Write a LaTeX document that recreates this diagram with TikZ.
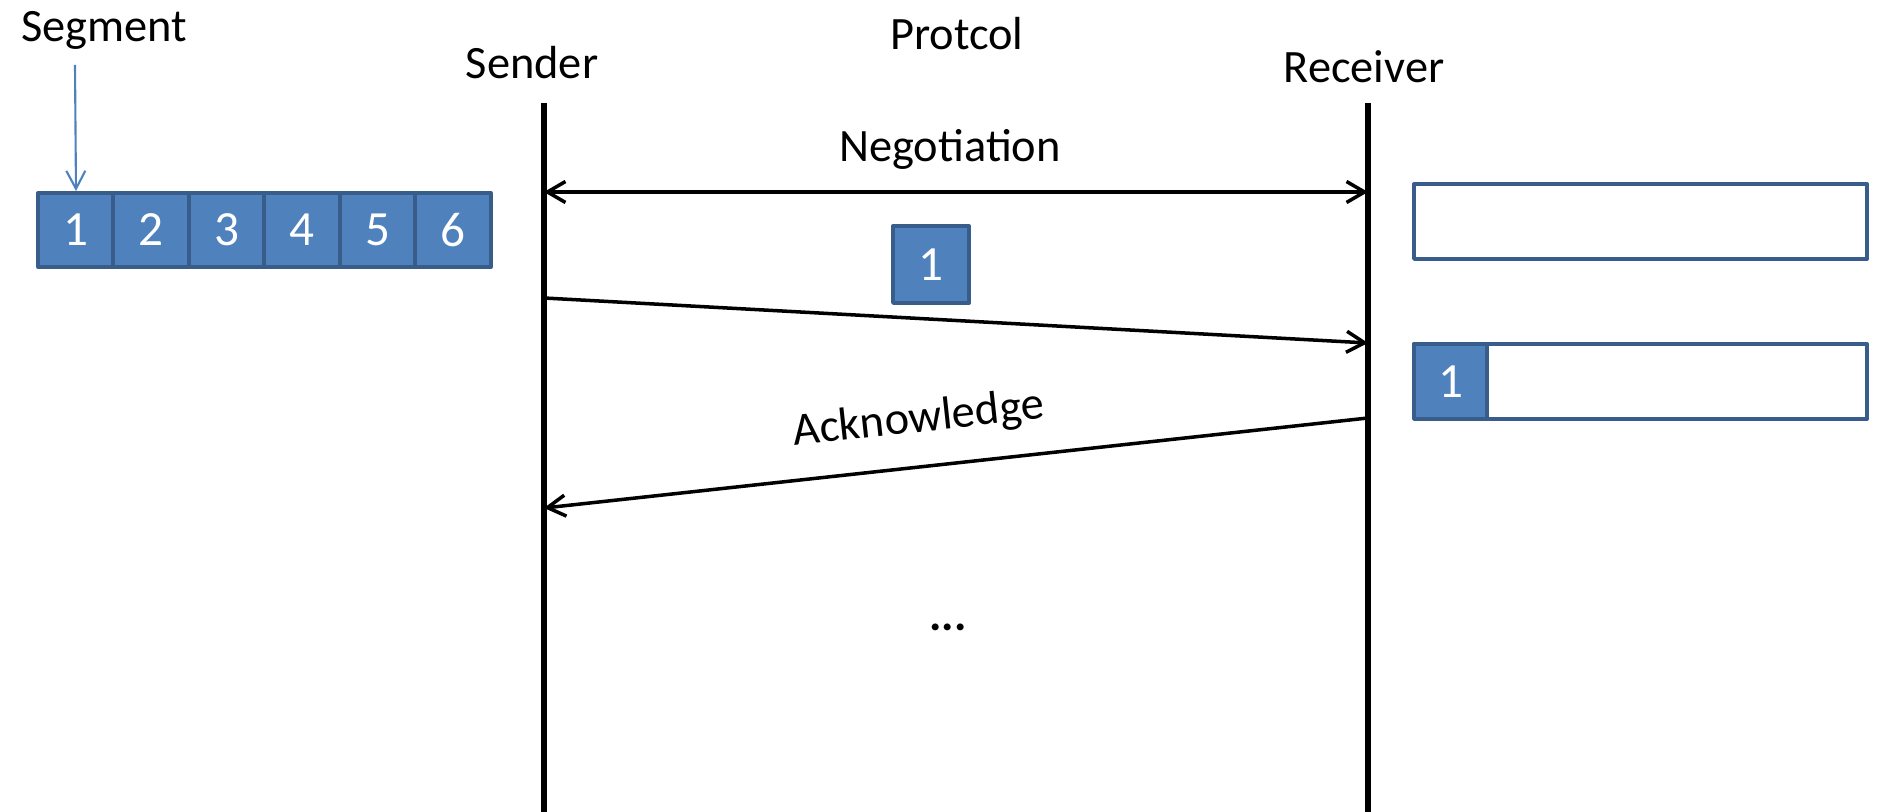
\documentclass[tikz,border=0pt]{standalone}
\usepackage{fontspec}
\setmainfont{Carlito}
\usepackage{tikz}
\usetikzlibrary{arrows.meta}
\pgfdeclarelayer{edgelayer}
\pgfdeclarelayer{nodelayer}
\pgfsetlayers{edgelayer,nodelayer,main}
\definecolor{segfill}{HTML}{4F81BD}
\definecolor{segline}{HTML}{385D8A}
\tikzstyle{none}=[inner sep=0pt]
\tikzstyle{caption}=[inner sep=0pt, anchor=base, font=\fontsize{13.2}{16}\selectfont]
\tikzstyle{cell}=[draw=segline, fill=segfill, line width=1.1pt, line join=round, inner sep=0pt, minimum width=0.755cm, minimum height=0.74cm, text=white, font=\fontsize{14}{16}\selectfont]
\tikzstyle{buffer}=[draw=segline, fill=white, line width=1.1pt, line join=round, inner sep=0pt, minimum width=4.53cm, minimum height=0.75cm]
\tikzstyle{lifeline}=[line width=1.7pt]
\tikzstyle{message}=[line width=1pt, >={Straight Barb[length=1.8mm,width=2.1mm]}]
\tikzstyle{pointer}=[draw=segfill, line width=0.6pt, ->, >={Straight Barb[length=1.8mm,width=1.9mm]}]

\begin{document}
\begin{tikzpicture}
	\useasboundingbox (0, 0) rectangle (18.78, -8.12);
	\begin{pgfonlayer}{nodelayer}
		\node [style=caption] (0) at (1.04, -0.42) {Segment};
		\node [style=caption] (1) at (5.32, -0.79) {Sender};
		\node [style=caption] (2) at (9.57, -0.50) {Protcol};
		\node [style=caption] (3) at (13.64, -0.83) {Receiver};
		\node [style=cell] (4) at (0.76, -2.30) {1};
		\node [style=cell] (5) at (1.51, -2.30) {2};
		\node [style=cell] (6) at (2.27, -2.30) {3};
		\node [style=cell] (7) at (3.02, -2.30) {4};
		\node [style=cell] (8) at (3.78, -2.30) {5};
		\node [style=cell] (9) at (4.53, -2.30) {6};
		\node [style=cell, minimum width=0.76cm, minimum height=0.77cm] (10) at (9.31, -2.645) {1};
		\node [style=buffer] (11) at (16.405, -2.215) {};
		\node [style=buffer] (12) at (16.405, -3.815) {};
		\node [style=cell, minimum width=0.73cm, minimum height=0.75cm] (13) at (14.505, -3.815) {1};
		\node [style=caption] (14) at (9.50, -1.62) {Negotiation};
		\node [style=caption, rotate=6.2] (15) at (9.20, -4.32) {Acknowledge};
		\node [style=caption, font=\fontsize{13.2}{16}\selectfont\bfseries] (16) at (9.48, -6.31) {...};
		\node [style=none] (17) at (0.75, -0.65) {};
		\node [style=none] (18) at (5.44, -1.03) {};
		\node [style=none] (19) at (5.44, -8.12) {};
		\node [style=none] (20) at (13.68, -1.03) {};
		\node [style=none] (21) at (13.68, -8.12) {};
		\node [style=none] (22) at (5.44, -1.92) {};
		\node [style=none] (23) at (13.68, -1.92) {};
		\node [style=none] (24) at (5.44, -2.98) {};
		\node [style=none] (25) at (13.68, -3.43) {};
		\node [style=none] (26) at (13.68, -4.18) {};
		\node [style=none] (27) at (5.44, -5.08) {};
	\end{pgfonlayer}
	\begin{pgfonlayer}{edgelayer}
		\draw [style=lifeline] (18.center) to (19.center);
		\draw [style=lifeline] (20.center) to (21.center);
		\draw [style=message, <->] (22.center) to (23.center);
		\draw [style=message, ->] (24.center) to (25.center);
		\draw [style=message, ->] (26.center) to (27.center);
		\draw [style=pointer] (17.center) to (4.north);
	\end{pgfonlayer}
\end{tikzpicture}
\end{document}
